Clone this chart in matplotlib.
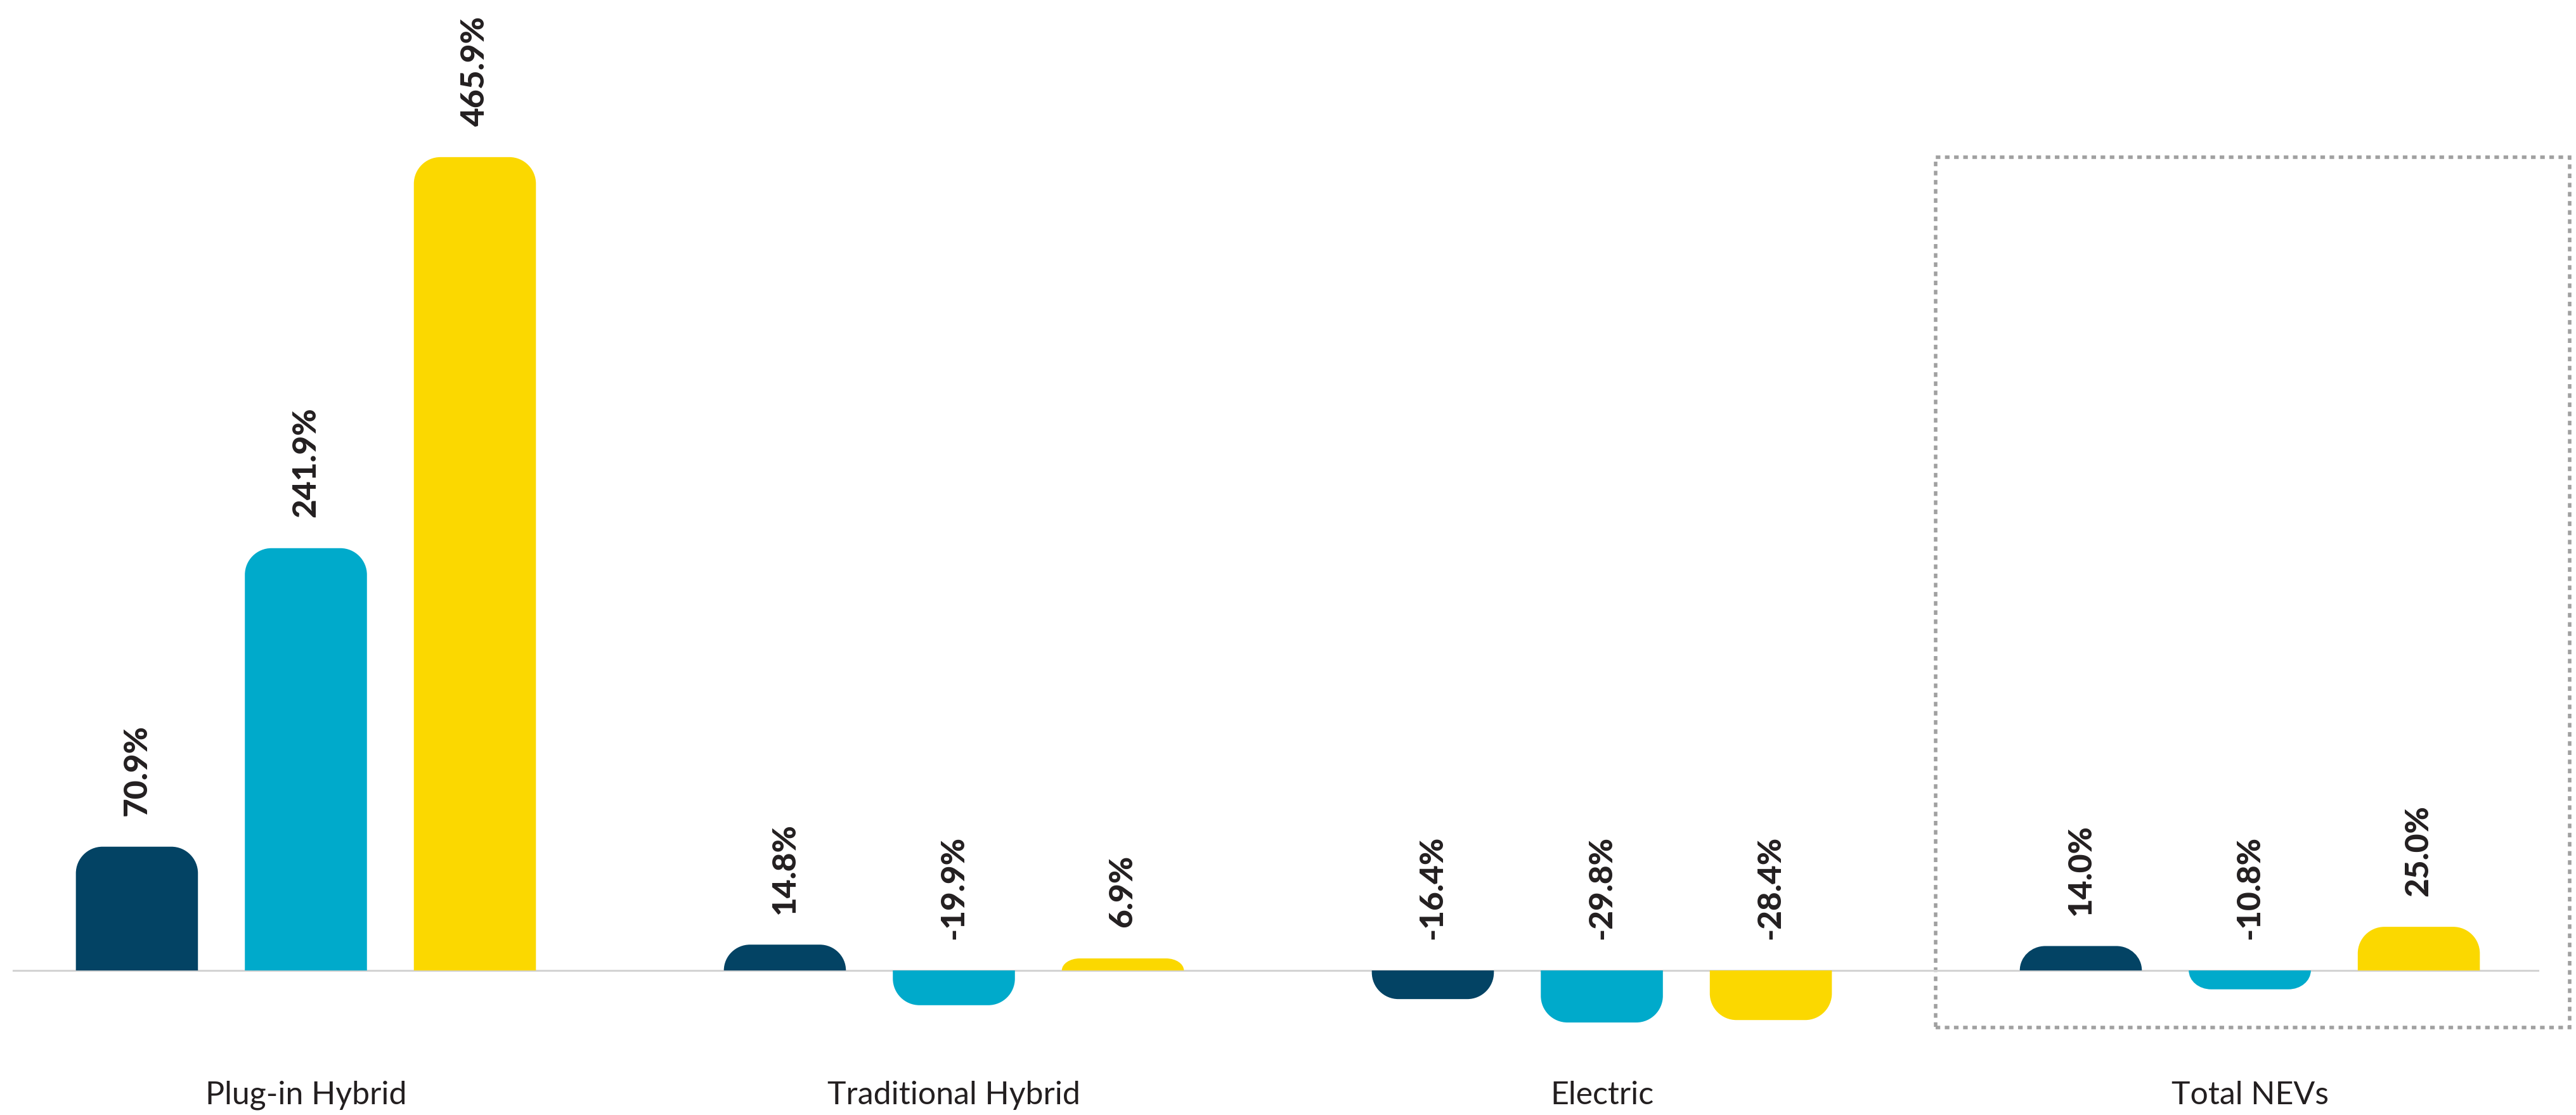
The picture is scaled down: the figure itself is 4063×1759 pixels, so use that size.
import matplotlib
matplotlib.use("Agg")
import matplotlib.pyplot as plt
from matplotlib.path import Path
from matplotlib.patches import PathPatch, Rectangle
import numpy as np

categories = ["Plug-in Hybrid", "Traditional Hybrid", "Electric", "Total NEVs"]
series_a = [70.9, 14.8, -16.4, 14.0]
series_b = [241.9, -19.9, -29.8, -10.8]
series_c = [465.9, 6.9, -28.4, 25.0]
series = [series_a, series_b, series_c]
colors = ["#034364", "#00AACB", "#FBD800"]
highlight_category = "Total NEVs"

W, H, DPI = 4063, 1759, 100
fig = plt.figure(figsize=(W / DPI, H / DPI), dpi=DPI)
ax = fig.add_axes([0, 0, 1, 1])
ax.set_xlim(-0.4721, 3.5034)
ax.set_ylim(-82.79, 555.9)
ax.axis("off")

bar_w = 0.1884
offset = 0.2608
x = np.arange(len(categories))

# baseline
ax.axhline(0, xmin=0.00517, xmax=0.98523, color="#D3D3D3", lw=2.2, zorder=1)

fig.canvas.draw()
t = ax.transData
px_x = t.transform((1, 0))[0] - t.transform((0, 0))[0]
px_y = t.transform((0, 1))[1] - t.transform((0, 0))[1]

R = 42.0
k = 0.5523


def rounded_bar(xc, h, w, color):
    xl, xr = xc - w / 2, xc + w / 2
    hp = abs(h) * px_y
    ry_px = min(R, hp)
    rx_px = R * min(1.0, (hp / R) ** 0.5)
    rx = rx_px / px_x
    ry = ry_px / px_y
    s = 1 if h >= 0 else -1
    yc = h - s * ry
    verts = [
        (xl, 0), (xl, yc),
        (xl, yc + s * k * ry), (xl + rx - k * rx, h), (xl + rx, h),
        (xr - rx, h),
        (xr - rx + k * rx, h), (xr, yc + s * k * ry), (xr, yc),
        (xr, 0), (xl, 0),
    ]
    codes = [Path.MOVETO, Path.LINETO,
             Path.CURVE4, Path.CURVE4, Path.CURVE4,
             Path.LINETO,
             Path.CURVE4, Path.CURVE4, Path.CURVE4,
             Path.LINETO, Path.CLOSEPOLY]
    ax.add_patch(PathPatch(Path(verts, codes), facecolor=color,
                           edgecolor="none", zorder=2))


for si, (vals, col) in enumerate(zip(series, colors)):
    for ci, v in enumerate(vals):
        xc = x[ci] + (si - 1) * offset
        rounded_bar(xc, v, bar_w, col)
        ax.annotate(f"{v:.1f}%", xy=(xc, max(v, 0)), xytext=(0, 35),
                    textcoords="offset points", rotation=90,
                    ha="center", va="bottom", fontsize=37,
                    fontfamily="Lato", fontweight="black", color="#231F20")

for ci, c in enumerate(categories):
    ax.text(x[ci], -76.6, c, ha="center", va="baseline", fontsize=36,
            fontfamily="Lato", color="#231F20")

hi = categories.index(highlight_category)
ax.add_patch(Rectangle((hi - 0.4848, -32.7), 0.9785, 465.9 + 32.7,
                       fill=False, edgecolor="#A0A0A0", lw=4,
                       linestyle=(0, (1.3, 1.3)), clip_on=False, zorder=0))

fig.savefig("out.png", dpi=DPI)
